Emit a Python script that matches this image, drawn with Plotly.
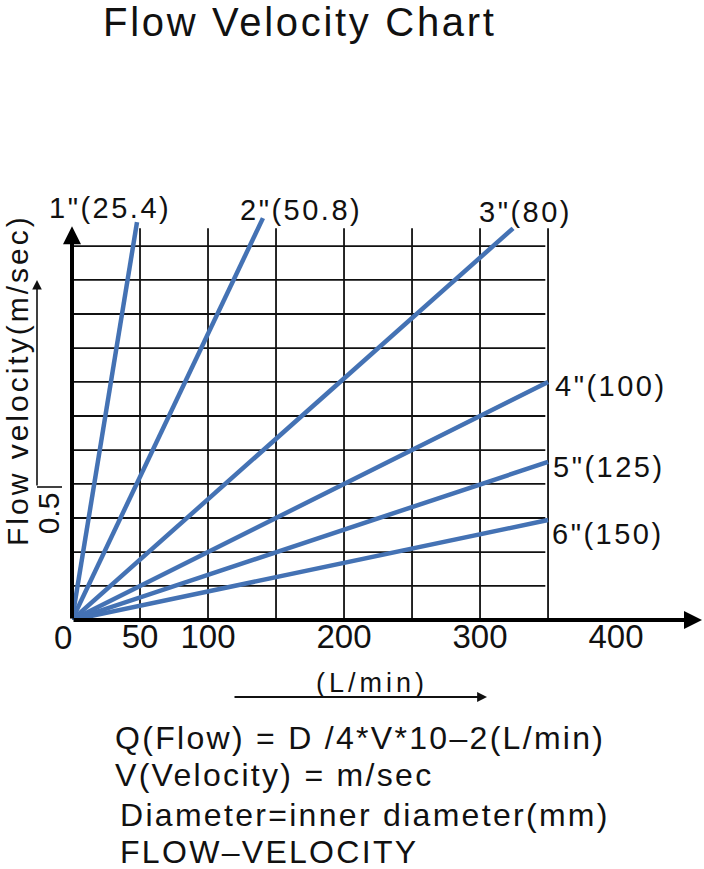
import plotly.graph_objects as go

# ---------------- data ----------------
pipe_labels = ['1"(25.4)', '2"(50.8)', '3"(80)', '4"(100)', '5"(125)', '6"(150)']
flow_start = [0, 0, 0, 0, 0, 0]
vel_start = [0, 0, 0, 0, 0, 0]
flow_end = [47.8, 140.4, 324.3, 350, 350, 350]      # L/min
vel_end = [1.95, 1.97, 1.92, 1.167, 0.775, 0.49]     # m/sec

grid_flow = [50, 100, 150, 200, 250, 300, 350]
grid_vel = [0.167, 0.333, 0.5, 0.667, 0.833, 1.0, 1.167, 1.333, 1.5, 1.667, 1.833]

x_tick_vals = [50, 100, 200, 300, 400]
x_tick_text = ['50', '100', '200', '300', '400']
y_tick_vals = [0.5]
y_tick_text = ['0.5']

title_text = 'Flow Velocity Chart'
y_title = 'Flow velocity(m/sec)'
x_title = '(L/min)'
notes = ['Q(Flow) = D /4*V*10\u20132(L/min)',
         'V(Velocity) = m/sec',
         'Diameter=inner diameter(mm)',
         'FLOW\u2013VELOCITY']

# ---------------- style / layout ----------------
FONT = 'Liberation Sans, Arial, Helvetica, sans-serif'
LINE_COLOR = '#4472B4'
W, H = 704, 869
ML, MR, MT, MB = 72, 2, 212, 249
PW, PH = W - ML - MR, H - MT - MB
X_MAX = 463.2
Y_MAX = 2.0
GRID_TOP = 1.92
GRID_RIGHT = 348


def px_x(px):
    return (px - ML) / PW


def px_y(py):
    return (H - MB - py) / PH


# label offsets (xanchor, xshift, yshift) per pipe label
label_style = [('center', -27, 14), ('center', 38, 8), ('center', 12, 16),
               ('left', 5, -4), ('left', 3, -5), ('left', 2, -14)]
note_pos = [(113, 738), (113, 775), (118, 815), (118, 852)]


def spaced(t, ls):
    return f'<span style="letter-spacing:{ls}px">{t}</span>'


fig = go.Figure()

for lab, x0, y0, x1, y1 in zip(pipe_labels, flow_start, vel_start, flow_end, vel_end):
    fig.add_trace(go.Scatter(x=[x0, x1], y=[y0, y1], mode='lines', name=lab,
                             line=dict(color=LINE_COLOR, width=4.5),
                             hoverinfo='name', showlegend=False))

# grid
for gx in grid_flow:
    fig.add_shape(type='line', xref='x', yref='y', x0=gx, x1=gx, y0=0, y1=GRID_TOP,
                  line=dict(color='#111', width=1.8), layer='below')
for gy in grid_vel:
    fig.add_shape(type='line', xref='x', yref='y', x0=0, x1=GRID_RIGHT, y0=gy, y1=gy,
                  line=dict(color='#111', width=1.8), layer='below')

annotations = []
# pipe labels
for lab, x1, y1, (anc, xs, ys) in zip(pipe_labels, flow_end, vel_end, label_style):
    annotations.append(dict(x=x1, y=y1, xref='x', yref='y', text=spaced(lab, 2.5),
                            showarrow=False, xanchor=anc, yanchor='middle',
                            xshift=xs, yshift=ys,
                            font=dict(family=FONT, size=29, color='#111')))

# axis arrows
annotations.append(dict(x=X_MAX, y=0, ax=0, ay=0, xref='x', yref='y', axref='x', ayref='y',
                        text='', showarrow=True, arrowhead=2, arrowsize=0.9,
                        arrowwidth=4, arrowcolor='#000', standoff=0))
annotations.append(dict(x=0, y=1.93, ax=0, ay=0, xref='x', yref='y', axref='x', ayref='y',
                        text='', showarrow=True, arrowhead=2, arrowsize=0.9,
                        arrowwidth=4, arrowcolor='#000', standoff=0))

# origin label
annotations.append(dict(x=0, y=0, xref='x', yref='y', text='0', showarrow=False,
                        xanchor='center', yanchor='middle', xshift=-9, yshift=-17,
                        font=dict(family=FONT, size=33, color='#111')))

# title
annotations.append(dict(x=px_x(300), y=px_y(22), xref='paper', yref='paper',
                        text=spaced(title_text, 2.7), showarrow=False,
                        xanchor='center', yanchor='middle',
                        font=dict(family=FONT, size=40, color='#111')))
# y title
annotations.append(dict(x=px_x(17), y=px_y(380), xref='paper', yref='paper',
                        text=spaced(y_title, 3), showarrow=False, textangle=-90,
                        xanchor='center', yanchor='middle',
                        font=dict(family=FONT, size=30, color='#111')))
# left small arrow
annotations.append(dict(x=px_x(37), y=px_y(280), xref='paper', yref='paper', ax=0, ay=207,
                        text='', showarrow=True, arrowhead=2, arrowsize=1.2,
                        arrowwidth=1.6, arrowcolor='#111', standoff=0))
fig.add_shape(type='line', xref='paper', yref='paper',
              x0=px_x(37), x1=px_x(62), y0=px_y(487), y1=px_y(487),
              line=dict(color='#111', width=1.6))
# x title
annotations.append(dict(x=px_x(372), y=px_y(683), xref='paper', yref='paper',
                        text=spaced(x_title, 4), showarrow=False,
                        xanchor='center', yanchor='middle',
                        font=dict(family=FONT, size=27, color='#111')))
# arrow under x title
annotations.append(dict(x=px_x(487), y=px_y(697), xref='paper', yref='paper',
                        ax=-254, ay=0, text='', showarrow=True, arrowhead=2,
                        arrowsize=1.1, arrowwidth=1.8, arrowcolor='#111', standoff=0))
# notes
for t, (nx, ny) in zip(notes, note_pos):
    annotations.append(dict(x=px_x(nx), y=px_y(ny), xref='paper', yref='paper',
                            text=spaced(t, 2.3), showarrow=False,
                            xanchor='left', yanchor='middle',
                            font=dict(family=FONT, size=32, color='#111')))

fig.update_layout(
    width=W, height=H,
    margin=dict(l=ML, r=MR, t=MT, b=MB),
    paper_bgcolor='white', plot_bgcolor='white',
    showlegend=False,
    annotations=annotations,
    xaxis=dict(range=[0, X_MAX], showgrid=False, zeroline=False, showline=False,
               tickvals=x_tick_vals, ticktext=x_tick_text, ticks='',
               ticklabelstandoff=-6,
               tickfont=dict(family=FONT, size=33, color='#111'), fixedrange=True),
    yaxis=dict(range=[0, Y_MAX], showgrid=False, zeroline=False, showline=False,
               tickvals=y_tick_vals, ticktext=y_tick_text, ticks='', tickangle=-90,
               ticklabelstandoff=6,
               tickfont=dict(family=FONT, size=30, color='#111'), fixedrange=True),
)

fig.write_html('out.html')
